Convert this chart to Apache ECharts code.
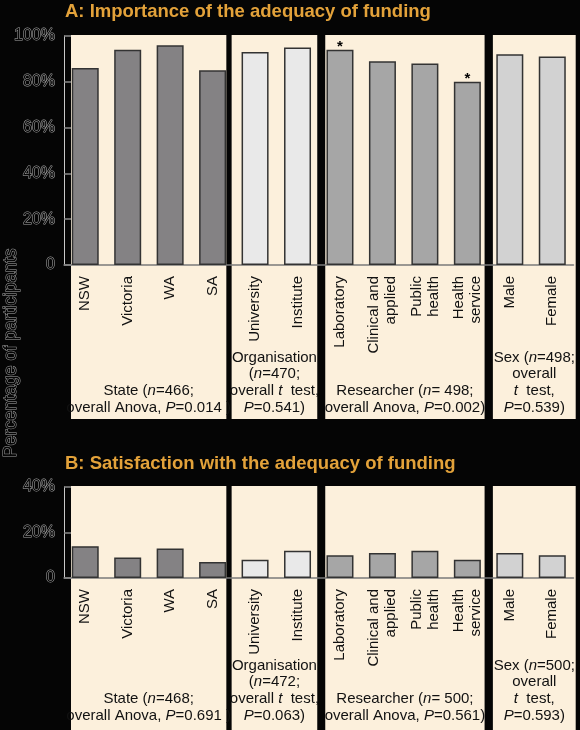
<!DOCTYPE html>
<html>
<head>
<meta charset="utf-8">
<script src="https://cdn.jsdelivr.net/npm/echarts@6/dist/echarts.min.js"></script>
<style>
  html, body { margin: 0; padding: 0; background: #050505; }
  #chart { width: 580px; height: 730px; }
</style>
</head>
<body>
<div id="chart"></div>
<script>
/**
 * data
 */
var categories = ['NSW', 'Victoria', 'WA', 'SA', 'University', 'Institute',
    'Laboratory', 'Clinical and\napplied', 'Public\nhealth', 'Health\nservice', 'Male', 'Female'];
var groupOf = [0, 0, 0, 0, 1, 1, 2, 2, 2, 2, 3, 3];
var importance = [86, 94, 96, 85, 93, 95, 94, 89, 88, 80, 92, 91];
var importanceSig = [0, 0, 0, 0, 0, 0, 1, 0, 0, 1, 0, 0];
var satisfaction = [14, 9, 13, 7, 8, 12, 10, 11, 12, 8, 11, 10];

var groupFrom = [0, 4, 6, 10];
var groupTo = [3, 5, 9, 11];
var nA = ['466', '470', ' 498', '498'];
var pA = ['0.014', '0.541', '0.002', '0.539'];
var nB = ['468', '472', ' 500', '500'];
var pB = ['0.691', '0.063', '0.561', '0.593'];

var titleA = 'A: Importance of the adequacy of funding';
var titleB = 'B: Satisfaction with the adequacy of funding';
var yName = 'Percentage of participants';

// look
var FONT = "'Liberation Sans', Arial, sans-serif";
var barColors = ['#848284', '#e9e9e9', '#a6a6a6', '#d2d2d2'];
var panelColor = '#fcf0dc';
// panel padding (px) inside the category bands: [left, right]
var panelPad = [[7, 7.5], [-2.2, 1.5], [6.5, 4], [4.3, -2.2]];

function groupLabel(g, n, p) {
    switch (g) {
        case 0: return 'State ({i|n}=' + n + ';\noverall Anova, {i|P}=' + p + ' )';
        case 1: return 'Organisation\n({i|n}=' + n + ';\noverall {i|t}  test,\n{i|P}=' + p + ')';
        case 2: return 'Researcher ({i|n}=' + n + ';\noverall Anova, {i|P}=' + p + ')';
        default: return 'Sex ({i|n}=' + n + ';\noverall\n{i|t}  test,\n{i|P}=' + p + ')';
    }
}

function barData(values, sig) {
    return values.map(function (v, i) {
        var item = {
            value: v,
            itemStyle: { color: barColors[groupOf[i]] }
        };
        if (sig && sig[i]) {
            item.label = { show: true };
        }
        return item;
    });
}

function xAxisCfg(gridIndex) {
    return {
        type: 'category',
        gridIndex: gridIndex,
        data: categories,
        axisLine: { lineStyle: { color: '#7a7a7a', width: 1.5 } },
        axisTick: { show: false },
        axisLabel: {
            interval: 0,
            rotate: 90,
            margin: 11,
            fontSize: 15,
            lineHeight: 17,
            fontFamily: FONT,
            color: '#111'
        }
    };
}

function yAxisCfg(gridIndex, max) {
    return {
        type: 'value',
        gridIndex: gridIndex,
        min: 0,
        max: max,
        interval: 20,
        axisLine: { show: true, lineStyle: { color: '#c8c8c8', width: 1 } },
        axisTick: { show: true, inside: true, length: 7, lineStyle: { color: '#8a8a8a', width: 1.5 } },
        splitLine: { show: false },
        axisLabel: {
            margin: 9,
            fontSize: 16,
            fontFamily: FONT,
            color: '#050505',
            textBorderColor: '#a8a8a8',
            textBorderWidth: 1,
            formatter: function (v) { return v === 0 ? '0' : v + '%'; }
        }
    };
}

var chart = echarts.init(document.getElementById('chart'));

var option = {
    backgroundColor: '#050505',
    animation: false,
    title: [
        { text: titleA, left: 65, top: 2, padding: 0,
          textStyle: { color: '#e3a23a', fontSize: 18.5, fontWeight: 'bold', fontFamily: FONT } },
        { text: titleB, left: 65, top: 454, padding: 0,
          textStyle: { color: '#e3a23a', fontSize: 18.5, fontWeight: 'bold', fontFamily: FONT } }
    ],
    grid: [
        { left: 64, right: 6.5, top: 36, bottom: 465 },
        { left: 64, right: 6.5, top: 487, bottom: 152 }
    ],
    xAxis: [xAxisCfg(0), xAxisCfg(1)],
    yAxis: [yAxisCfg(0, 100), yAxisCfg(1, 40)],
    series: [
        {
            type: 'bar',
            xAxisIndex: 0,
            yAxisIndex: 0,
            barWidth: 27,
            z: 3,
            itemStyle: { borderColor: '#333', borderWidth: 1.5 },
            label: {
                show: false,
                position: 'top',
                distance: -5,
                formatter: '*',
                fontSize: 15,
                fontWeight: 'bold',
                fontFamily: FONT,
                color: '#000'
            },
            data: barData(importance, importanceSig)
        },
        {
            type: 'bar',
            xAxisIndex: 1,
            yAxisIndex: 1,
            barWidth: 27,
            z: 3,
            itemStyle: { borderColor: '#333', borderWidth: 1.5 },
            data: barData(satisfaction)
        }
    ]
};
chart.setOption(option);

/**
 * panels and group notes, placed from the axes
 */
function buildGraphic() {
    var px = function (i) { return chart.convertToPixel({ xAxisIndex: 0 }, i); };
    var band = px(1) - px(0);
    var topA = chart.convertToPixel({ yAxisIndex: 0 }, 100) - 1;
    var topB = chart.convertToPixel({ yAxisIndex: 1 }, 40) - 1;
    var bottomA = 419, bottomB = 730;
    var els = [];
    var rich = {
        i: { fontStyle: 'italic', fontSize: 15, fontFamily: FONT, lineHeight: 16.7, color: '#111' }
    };

    for (var g = 0; g < groupFrom.length; g++) {
        var left = px(groupFrom[g]) - band / 2 + panelPad[g][0];
        var right = px(groupTo[g]) + band / 2 - panelPad[g][1];
        var cx = (left + right) / 2;
        [[topA, bottomA], [topB, bottomB]].forEach(function (tb) {
            els.push({
                type: 'rect', z: -10, silent: true,
                shape: { x: left, y: tb[0], width: right - left, height: tb[1] - tb[0] },
                style: { fill: panelColor }
            });
        });
        els.push({
            type: 'text', z: 10, x: cx, y: 416,
            style: {
                text: groupLabel(g, nA[g], pA[g]), rich: rich,
                fontSize: 15, fontFamily: FONT, lineHeight: 16.7, fill: '#111',
                align: 'center', verticalAlign: 'bottom'
            }
        });
        els.push({
            type: 'text', z: 10, x: cx, y: 724,
            style: {
                text: groupLabel(g, nB[g], pB[g]), rich: rich,
                fontSize: 15, fontFamily: FONT, lineHeight: 16.7, fill: '#111',
                align: 'center', verticalAlign: 'bottom'
            }
        });
    }

    // shared y-axis name
    els.push({
        type: 'text', z: 10, x: 11, y: 353, rotation: Math.PI / 2,
        style: {
            text: yName, fontSize: 18, fontFamily: FONT,
            fill: '#050505', stroke: '#a0a0a0', lineWidth: 1,
            align: 'center', verticalAlign: 'middle'
        }
    });
    return els;
}

chart.setOption({ graphic: buildGraphic() });
</script>
</body>
</html>
